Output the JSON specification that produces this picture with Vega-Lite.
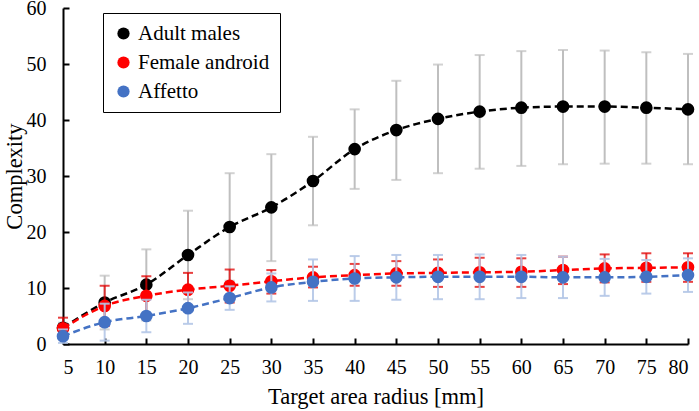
{
  "$schema": "https://vega.github.io/schema/vega-lite/v6.json",
  "width": 625,
  "height": 336,
  "autosize": {"type": "none"},
  "padding": {"left": 63, "top": 8, "right": 11, "bottom": 67},
  "background": "white",
  "config": {
    "view": {"stroke": null},
    "font": "Liberation Serif",
    "axis": {
      "grid": false,
      "domainColor": "#000000",
      "domainWidth": 2,
      "tickColor": "#000000",
      "tickWidth": 2,
      "tickSize": -6,
      "labelFont": "Liberation Serif",
      "labelFontSize": 20,
      "labelColor": "#000000",
      "titleFont": "Liberation Serif",
      "titleFontSize": 22.5,
      "titleFontWeight": "normal",
      "titleColor": "#000000"
    }
  },
  "data": {
    "values": [
      {"s": "Adult males", "x": 5, "y": 2.9, "lo": 2.0, "hi": 3.8},
      {"s": "Adult males", "x": 10, "y": 7.4, "lo": 2.6, "hi": 12.2},
      {"s": "Adult males", "x": 15, "y": 10.6, "lo": 4.2, "hi": 16.9},
      {"s": "Adult males", "x": 20, "y": 15.9, "lo": 8.0, "hi": 23.8},
      {"s": "Adult males", "x": 25, "y": 20.9, "lo": 11.3, "hi": 30.5},
      {"s": "Adult males", "x": 30, "y": 24.4, "lo": 14.8, "hi": 33.9},
      {"s": "Adult males", "x": 35, "y": 29.1, "lo": 21.2, "hi": 37.0},
      {"s": "Adult males", "x": 40, "y": 34.8, "lo": 27.7, "hi": 41.9},
      {"s": "Adult males", "x": 45, "y": 38.2, "lo": 29.3, "hi": 47.0},
      {"s": "Adult males", "x": 50, "y": 40.2, "lo": 30.5, "hi": 49.9},
      {"s": "Adult males", "x": 55, "y": 41.5, "lo": 31.3, "hi": 51.6},
      {"s": "Adult males", "x": 60, "y": 42.2, "lo": 31.8, "hi": 52.3},
      {"s": "Adult males", "x": 65, "y": 42.4, "lo": 32.1, "hi": 52.5},
      {"s": "Adult males", "x": 70, "y": 42.4, "lo": 32.2, "hi": 52.4},
      {"s": "Adult males", "x": 75, "y": 42.2, "lo": 32.2, "hi": 52.1},
      {"s": "Adult males", "x": 80, "y": 41.9, "lo": 32.1, "hi": 51.8},
      {"s": "Female android", "x": 5, "y": 2.8, "lo": 0.9, "hi": 4.7},
      {"s": "Female android", "x": 10, "y": 6.8, "lo": 3.2, "hi": 10.4},
      {"s": "Female android", "x": 15, "y": 8.6, "lo": 5.1, "hi": 12.1},
      {"s": "Female android", "x": 20, "y": 9.7, "lo": 6.7, "hi": 12.7},
      {"s": "Female android", "x": 25, "y": 10.4, "lo": 7.4, "hi": 13.3},
      {"s": "Female android", "x": 30, "y": 11.2, "lo": 9.0, "hi": 13.2},
      {"s": "Female android", "x": 35, "y": 11.9, "lo": 10.1, "hi": 13.8},
      {"s": "Female android", "x": 40, "y": 12.3, "lo": 10.4, "hi": 14.3},
      {"s": "Female android", "x": 45, "y": 12.6, "lo": 10.4, "hi": 14.8},
      {"s": "Female android", "x": 50, "y": 12.7, "lo": 10.2, "hi": 15.1},
      {"s": "Female android", "x": 55, "y": 12.8, "lo": 10.2, "hi": 15.4},
      {"s": "Female android", "x": 60, "y": 12.9, "lo": 10.2, "hi": 15.3},
      {"s": "Female android", "x": 65, "y": 13.2, "lo": 10.7, "hi": 15.6},
      {"s": "Female android", "x": 70, "y": 13.5, "lo": 11.0, "hi": 16.0},
      {"s": "Female android", "x": 75, "y": 13.6, "lo": 11.1, "hi": 16.2},
      {"s": "Female android", "x": 80, "y": 13.7, "lo": 11.1, "hi": 16.2},
      {"s": "Affetto", "x": 5, "y": 1.4, "lo": 0.2, "hi": 2.6},
      {"s": "Affetto", "x": 10, "y": 3.9, "lo": 0.6, "hi": 7.2},
      {"s": "Affetto", "x": 15, "y": 5.0, "lo": 2.1, "hi": 7.9},
      {"s": "Affetto", "x": 20, "y": 6.4, "lo": 3.6, "hi": 9.2},
      {"s": "Affetto", "x": 25, "y": 8.2, "lo": 6.1, "hi": 10.3},
      {"s": "Affetto", "x": 30, "y": 10.1, "lo": 7.6, "hi": 12.6},
      {"s": "Affetto", "x": 35, "y": 11.1, "lo": 7.7, "hi": 15.1},
      {"s": "Affetto", "x": 40, "y": 11.7, "lo": 7.7, "hi": 15.7},
      {"s": "Affetto", "x": 45, "y": 11.9, "lo": 7.9, "hi": 15.9},
      {"s": "Affetto", "x": 50, "y": 12.0, "lo": 8.0, "hi": 15.9},
      {"s": "Affetto", "x": 55, "y": 12.0, "lo": 8.0, "hi": 16.0},
      {"s": "Affetto", "x": 60, "y": 12.0, "lo": 8.2, "hi": 15.9},
      {"s": "Affetto", "x": 65, "y": 11.9, "lo": 8.2, "hi": 15.6},
      {"s": "Affetto", "x": 70, "y": 11.9, "lo": 8.6, "hi": 15.2},
      {"s": "Affetto", "x": 75, "y": 12.0, "lo": 9.0, "hi": 15.0},
      {"s": "Affetto", "x": 80, "y": 12.3, "lo": 9.3, "hi": 15.3}
    ]
  },
  "encoding": {
    "x": {
      "field": "x", "type": "quantitative",
      "scale": {"domain": [5, 80], "nice": false, "zero": false},
      "axis": {"values": [5,10,15,20,25,30,35,40,45,50,55,60,65,70,75,80], "title": "Target area radius [mm]", "labelPadding": 19, "titlePadding": 8}
    },
    "y": {
      "field": "y", "type": "quantitative",
      "scale": {"domain": [0, 60], "nice": false},
      "axis": {
        "values": [0,10,20,30,40,50,60], "title": "Complexity", "labelPadding": 23, "titlePadding": 0,
        "encode": {"labels": {"update": {"dy": {"signal": "datum.value === 60 ? 2 : 0"}}}}
      }
    }
  },
  "layer": [
    {"transform": [{"filter": "datum.s === 'Adult males'"}], "mark": {"type": "rule", "color": "#BFBFBF", "strokeWidth": 2}, "encoding": {"y": {"field": "lo", "type": "quantitative"}, "y2": {"field": "hi"}}},
    {"transform": [{"filter": "datum.s === 'Adult males'"}], "mark": {"type": "tick", "color": "#BFBFBF", "thickness": 2, "size": 10, "orient": "horizontal"}, "encoding": {"y": {"field": "hi", "type": "quantitative"}}},
    {"transform": [{"filter": "datum.s === 'Adult males'"}], "mark": {"type": "tick", "color": "#BFBFBF", "thickness": 2, "size": 10, "orient": "horizontal"}, "encoding": {"y": {"field": "lo", "type": "quantitative"}}},
    {"transform": [{"filter": "datum.s === 'Adult males'"}], "mark": {"type": "line", "color": "#000000", "strokeWidth": 2.5, "strokeDash": [7, 4], "interpolate": "monotone"}, "encoding": {}},
    {"transform": [{"filter": "datum.s === 'Adult males'"}], "mark": {"type": "point", "filled": true, "shape": "circle", "size": 160, "opacity": 1}, "encoding": {"color": {"field": "s", "type": "nominal"}}},

    {"transform": [{"filter": "datum.s === 'Female android'"}], "mark": {"type": "rule", "color": "#E00000", "strokeWidth": 2, "opacity": 0.75}, "encoding": {"y": {"field": "lo", "type": "quantitative"}, "y2": {"field": "hi"}}},
    {"transform": [{"filter": "datum.s === 'Female android'"}], "mark": {"type": "tick", "color": "#E00000", "thickness": 2, "size": 10, "orient": "horizontal", "opacity": 0.75}, "encoding": {"y": {"field": "hi", "type": "quantitative"}}},
    {"transform": [{"filter": "datum.s === 'Female android'"}], "mark": {"type": "tick", "color": "#E00000", "thickness": 2, "size": 10, "orient": "horizontal", "opacity": 0.75}, "encoding": {"y": {"field": "lo", "type": "quantitative"}}},
    {"transform": [{"filter": "datum.s === 'Female android'"}], "mark": {"type": "line", "color": "#FF0000", "strokeWidth": 2.5, "strokeDash": [7, 4], "interpolate": "monotone"}, "encoding": {}},
    {"transform": [{"filter": "datum.s === 'Female android'"}], "mark": {"type": "point", "filled": true, "shape": "circle", "size": 160, "opacity": 1}, "encoding": {"color": {"field": "s", "type": "nominal"}}},

    {"transform": [{"filter": "datum.s === 'Affetto'"}], "mark": {"type": "rule", "color": "#B4C7E7", "strokeWidth": 2, "opacity": 0.9}, "encoding": {"y": {"field": "lo", "type": "quantitative"}, "y2": {"field": "hi"}}},
    {"transform": [{"filter": "datum.s === 'Affetto'"}], "mark": {"type": "tick", "color": "#B4C7E7", "thickness": 2, "size": 10, "orient": "horizontal", "opacity": 0.9}, "encoding": {"y": {"field": "hi", "type": "quantitative"}}},
    {"transform": [{"filter": "datum.s === 'Affetto'"}], "mark": {"type": "tick", "color": "#B4C7E7", "thickness": 2, "size": 10, "orient": "horizontal", "opacity": 0.9}, "encoding": {"y": {"field": "lo", "type": "quantitative"}}},
    {"transform": [{"filter": "datum.s === 'Affetto'"}], "mark": {"type": "line", "color": "#4472C4", "strokeWidth": 2.5, "strokeDash": [7, 4], "interpolate": "monotone"}, "encoding": {}},
    {"transform": [{"filter": "datum.s === 'Affetto'"}], "mark": {"type": "point", "filled": true, "shape": "circle", "size": 160, "opacity": 1}, "encoding": {"color": {
      "field": "s", "type": "nominal",
      "scale": {"domain": ["Adult males", "Female android", "Affetto"], "range": ["#000000", "#FF0000", "#4472C4"]},
      "legend": {
        "title": null, "orient": "none", "legendX": 40, "legendY": 5,
        "strokeColor": "#000000", "fillColor": "#FFFFFF",
        "padding": 10, "symbolType": "circle", "symbolSize": 150, "symbolStrokeWidth": 0,
        "labelFont": "Liberation Serif", "labelFontSize": 21, "labelColor": "#000000",
        "rowPadding": 7, "labelOffset": 4, "labelLimit": 300
      }
    }}}
  ]
}
